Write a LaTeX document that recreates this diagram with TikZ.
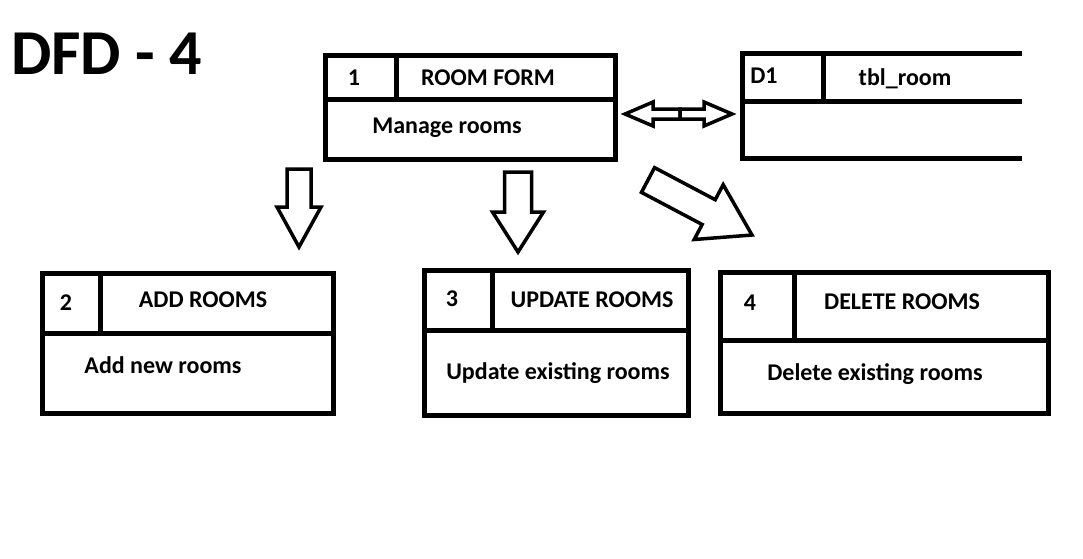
\documentclass[tikz,border=0pt]{standalone}
\usepackage{fontspec}
\setmainfont{Carlito}
\usetikzlibrary{calc}

\tikzset{
  boxline/.style={line width=5pt},
  arrline/.style={line width=3.5pt},
  lbl/.style={anchor=base,inner sep=0pt,font=\fontsize{24}{28}\selectfont\bfseries},
}
% hollow block arrow: from, to, shaft half width, head half width, head length
\newcommand\blockarrow[5]{%
  \coordinate (h) at ($(#2)!#5!(#1)$);
  \draw[arrline] ($(#1)!#3!-90:(#2)$) -- ($(h)!#3!-90:(#2)$) -- ($(h)!#4!-90:(#2)$)
    -- (#2) -- ($(h)!#4!90:(#2)$) -- ($(h)!#3!90:(#2)$) -- ($(#1)!#3!90:(#2)$) -- cycle;
}

\begin{document}
\begin{tikzpicture}[x=1pt,y=-1pt]
\useasboundingbox (0,0) rectangle (1083,558);

\node[anchor=base west,inner sep=0pt,font=\fontsize{64}{70}\selectfont\bfseries] (title) at (11,74) {DFD - 4};

\draw[boxline] (325,55) rectangle (615,159);
\draw[boxline] (325,99) -- (615,99);
\draw[boxline] (396,55) -- (396,99);
\node[lbl] (n1) at (354,85) {1};
\node[lbl] (t1) at (488,85) {ROOM FORM};
\node[lbl] (d1) at (447,133) {Manage rooms};

\draw[boxline] (1022,53) -- (742,53) -- (742,158) -- (1022,158);
\draw[boxline] (742,101) -- (1022,101);
\draw[boxline] (823,53) -- (823,101);
\node[lbl] (ns) at (764,83) {D1};
\node[lbl] (ts) at (905,85) {tbl\_room};

\draw[boxline] (42,273) rectangle (333,413);
\draw[boxline] (42,333) -- (333,333);
\draw[boxline] (100,273) -- (100,333);
\node[lbl] (n2) at (66,310) {2};
\node[lbl] (t2) at (203,307) {ADD ROOMS};
\node[lbl] (d2) at (163,373) {Add new rooms};

\draw[boxline] (424,270) rectangle (688,415);
\draw[boxline] (424,330) -- (688,330);
\draw[boxline] (492,270) -- (492,330);
\node[lbl] (n3) at (452,306) {3};
\node[lbl] (t3) at (592,307) {UPDATE ROOMS};
\node[lbl] (d3) at (558,379) {Update existing rooms};

\draw[boxline] (720,272) rectangle (1048,413);
\draw[boxline] (720,340) -- (1048,340);
\draw[boxline] (794,272) -- (794,340);
\node[lbl] (n4) at (750,310) {4};
\node[lbl] (t4) at (902,309) {DELETE ROOMS};
\node[lbl] (d4) at (875,380) {Delete existing rooms};

\coordinate (mid) at (680,114);
\coordinate (l) at (625,114);
\coordinate (r) at (732,114);
\blockarrow{mid}{l}{5pt}{12pt}{28pt}
\blockarrow{mid}{r}{5pt}{12pt}{28pt}

\coordinate (a2s) at (299,169);
\coordinate (a2e) at (299,247);
\blockarrow{a2s}{a2e}{12pt}{22pt}{40pt}

\coordinate (a3s) at (518,172);
\coordinate (a3e) at (518,252);
\blockarrow{a3s}{a3e}{13.5pt}{25.5pt}{40pt}

\coordinate (a4s) at (648,180);
\coordinate (a4e) at (752,235);
\blockarrow{a4s}{a4e}{14pt}{31pt}{49pt}
\end{tikzpicture}
\end{document}
